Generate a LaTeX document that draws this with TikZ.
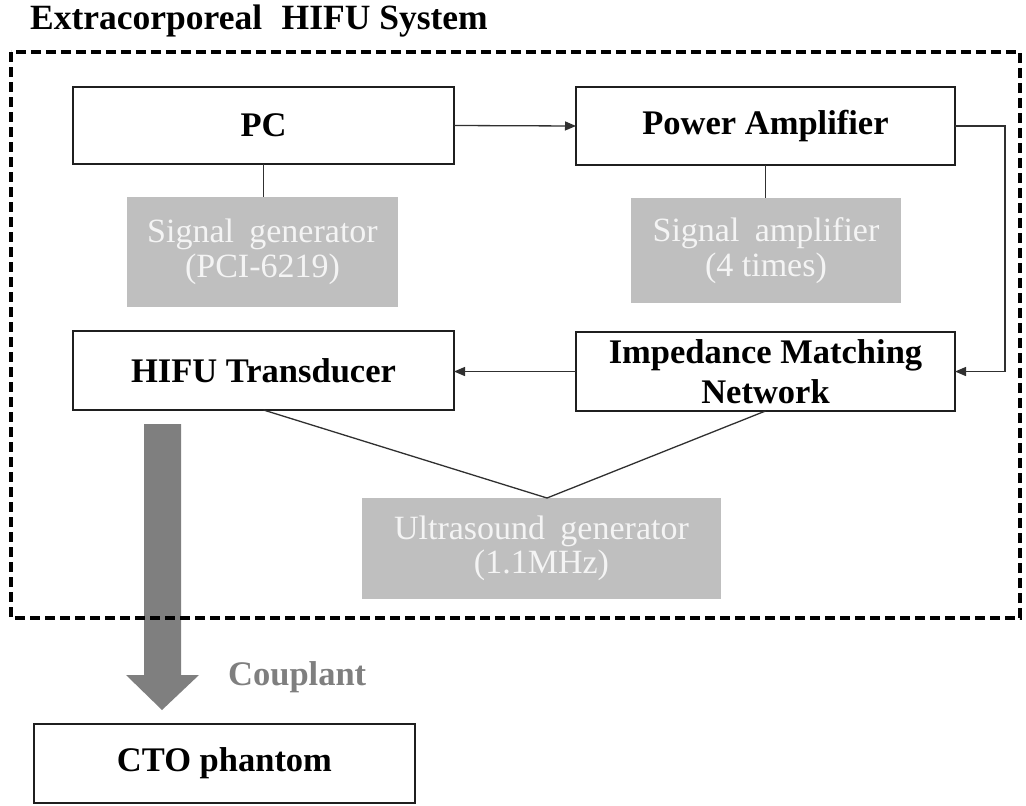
\documentclass[tikz,border=0pt]{standalone}
\usepackage{fontspec}
\setmainfont{Liberation Serif}
\usetikzlibrary{arrows.meta}
\definecolor{boxgray}{HTML}{BFBFBF}
\definecolor{arrowgray}{HTML}{7F7F7F}
\definecolor{linegray}{HTML}{303030}
\definecolor{lighttext}{HTML}{F4F4F4}
\newcommand{\wsp}{\hspace{0.45em}}
\begin{document}
\begin{tikzpicture}[x=1pt,y=-1pt,
  mainbox/.style={draw=black!88,line width=1.5pt,fill=white,inner sep=0pt,outer sep=0pt,align=center,font=\fontsize{34.5}{40}\selectfont\bfseries},
  graybox/.style={fill=boxgray,inner sep=0pt,outer sep=0pt,align=center,text=lighttext,font=\fontsize{34}{34.5}\selectfont},
  conn/.style={draw=linegray,line width=1.3pt},
  arr/.style={conn,-{Triangle[length=11pt,width=9pt]}},
  labeltext/.style={anchor=base west,inner sep=0pt,font=\fontsize{34.5}{40}\selectfont\bfseries},
]
\useasboundingbox (0,0) rectangle (1026,806);

% title
\node[labeltext,font=\fontsize{35.5}{40}\selectfont\bfseries] (title) at (30,29) {Extracorporeal\hspace{0.55em}HIFU System};

% big grey arrow (under the dashed frame)
\fill[arrowgray] (144,424) -- (181,424) -- (181,675) -- (199,675) -- (162,710) -- (126,675) -- (144,675) -- cycle;

% dashed frame
\draw[line width=3.5pt,dash pattern=on 10pt off 5pt] (11,52) rectangle (1020,618);

% boxes
\node[mainbox,minimum width=381pt,minimum height=77pt] (pc) at (263.5,125.5) {PC};
\node[mainbox,minimum width=379pt,minimum height=78pt] (pa) at (765.5,126) {Power Amplifier};
\node[graybox,minimum width=271pt,minimum height=110pt] (sg) at (262.5,252) {Signal\wsp generator\\(PCI-6219)};
\node[graybox,minimum width=270pt,minimum height=105pt] (sa) at (766,250.5) {Signal\wsp amplifier\\(4 times)};
\node[mainbox,minimum width=381pt,minimum height=79pt] (hifu) at (263.5,370.5) {HIFU Transducer};
\node[mainbox,minimum width=379pt,minimum height=79pt] (imn) at (765.5,371.5) {Impedance Matching\\Network};
\node[graybox,minimum width=359pt,minimum height=101pt] (us) at (541.5,548.5) {Ultrasound\wsp generator\\(1.1MHz)};
\node[mainbox,minimum width=381pt,minimum height=79pt] (cto) at (224.5,763.5) {CTO phantom};

\node[labeltext,text=arrowgray] (coup) at (228,685) {Couplant};

\coordinate (apex) at (547,498);

% connectors
\draw[arr] (pc.east) -- (pa.west);
\draw[arr] (pa.east) -- ++(50,0) |- (imn.east);
\draw[arr] (imn.west) -- (imn.west -| hifu.east);
\draw[conn] (pc.south) -- (pc.south |- sg.north);
\draw[conn] (pa.south) -- (pa.south |- sa.north);
\draw[conn] (hifu.south) -- (apex);
\draw[conn] (imn.south) -- (apex);
\end{tikzpicture}
\end{document}
